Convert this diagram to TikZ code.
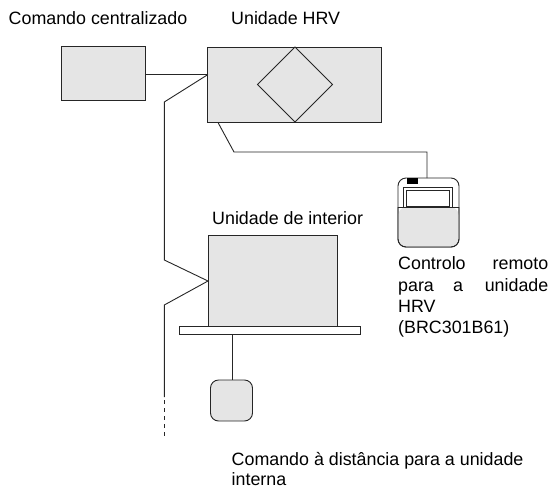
\documentclass[tikz,border=0pt]{standalone}
\usepackage{fontspec}
\setmainfont{Liberation Sans}
\newlength{\du}
\setlength{\du}{1pt}
\definecolor{unitgrey}{rgb}{0.898000, 0.898000, 0.898000}
\definecolor{unitline}{rgb}{0.150000, 0.150000, 0.150000}
\tikzset{
  unitbox/.style={draw=unitline, fill=unitgrey, line width=0.9\du, inner sep=0pt, outer sep=0pt},
  wire/.style={draw=unitline, line width=0.9\du},
  caption/.style={anchor=base west, inner sep=0pt, font=\fontsize{17.85}{21}\selectfont},
}
\begin{document}
\begin{tikzpicture}
\pgftransformxscale{1.000000}
\pgftransformyscale{-1.000000}
\useasboundingbox (0\du,0\du) rectangle (552\du,491\du);
% units
\node[unitbox, minimum width=83.5\du, minimum height=53.5\du] (central) at (103.25\du,73.25\du) {};
\node[unitbox, minimum width=174\du, minimum height=75.5\du] (hrv) at (294\du,84.75\du) {};
\node[unitbox, minimum width=129\du, minimum height=91.5\du] (indoor) at (272.5\du,280.75\du) {};
\node[unitbox, fill=white, minimum width=181.5\du, minimum height=8\du] (plate) at (269.75\du,330.5\du) {};
\node[unitbox, rounded corners=8\du, minimum width=42\du, minimum height=41\du] (indoorremote) at (231.5\du,400.5\du) {};
% heat exchanger
\coordinate (dtop) at (295\du,47\du);
\coordinate (dright) at (332.5\du,84.5\du);
\coordinate (dbottom) at (295\du,122\du);
\coordinate (dleft) at (257.5\du,84.5\du);
\draw[wire] (dtop)--(dright)--(dbottom)--(dleft)--cycle;
% hrv remote
\node[unitbox, fill=white, rounded corners=8\du, minimum width=61\du, minimum height=69\du] (hrvremote) at (428.5\du,212.5\du) {};
\fill[unitgrey, rounded corners=8\du] (398.5\du,207\du)--(398.5\du,246.5\du)--(458.5\du,246.5\du)--(458.5\du,207\du)--cycle;
\draw[wire, rounded corners=8\du] (398\du,207\du)--(398\du,247\du)--(459\du,247\du)--(459\du,207\du);
\draw[wire] (398\du,207\du)--(459\du,207\du);
\node[fill=black, inner sep=0pt, minimum width=11\du, minimum height=6\du] (hrvkey) at (412.5\du,181\du) {};
\node[unitbox, fill=white, minimum width=49\du, minimum height=20\du] (hrvscreen) at (427.5\du,197\du) {};
\node[unitbox, fill=white, minimum width=43\du, minimum height=16\du] (hrvdisplay) at (427.5\du,198\du) {};
% connectors
\coordinate (hrvport) at (208\du,74.5\du);
\coordinate (busa) at (164.3\du,102\du);
\coordinate (busb) at (164.3\du,260\du);
\coordinate (indoorport) at (208\du,281\du);
\coordinate (busc) at (164.3\du,305\du);
\coordinate (busd) at (164.3\du,397\du);
\coordinate (buse) at (164.3\du,437\du);
\coordinate (hrvout) at (218\du,122.5\du);
\coordinate (hrvbend) at (234\du,152\du);
\coordinate (remotebend) at (427\du,152\du);
\coordinate (remotein) at (427\du,178\du);
\coordinate (plateout) at (232\du,334.5\du);
\draw[wire] (central.east |- hrvport)--(hrvport);
\draw[wire] (hrvport)--(busa)--(busb)--(indoorport)--(busc)--(busd);
\draw[wire, dash pattern=on 4\du off 4\du, dash phase=5\du] (busd)--(buse);
\draw[wire] (hrvout)--(hrvbend)--(remotebend)--(remotein);
\draw[wire] (plateout)--(indoorremote.north -| plateout);
% labels
\node[caption] (lblcentral) at (8.5\du,24\du) {Comando centralizado};
\node[caption] (lblhrv) at (231\du,24\du) {Unidade HRV};
\node[caption] (lblindoor) at (212\du,224\du) {Unidade de interior};
\node[caption] (lblremotea) at (398\du,269.5\du) {Controlo};
\node[caption, anchor=base east] (lblremoteb) at (548.5\du,269.5\du) {remoto};
\node[caption] (lblremotec) at (398\du,291\du) {para};
\node[caption] (lblremoteg) at (453\du,291\du) {a};
\node[caption, anchor=base east] (lblremoted) at (548.5\du,291\du) {unidade};
\node[caption] (lblremotee) at (398\du,312\du) {HRV};
\node[caption] (lblremotef) at (398\du,333\du) {(BRC301B61)};
\node[caption] (lblindoorremote) at (231.5\du,465\du) {Comando à distância para a unidade};
\node[caption] (lblindoorremoteb) at (231.5\du,485.7\du) {interna};
\end{tikzpicture}
\end{document}
